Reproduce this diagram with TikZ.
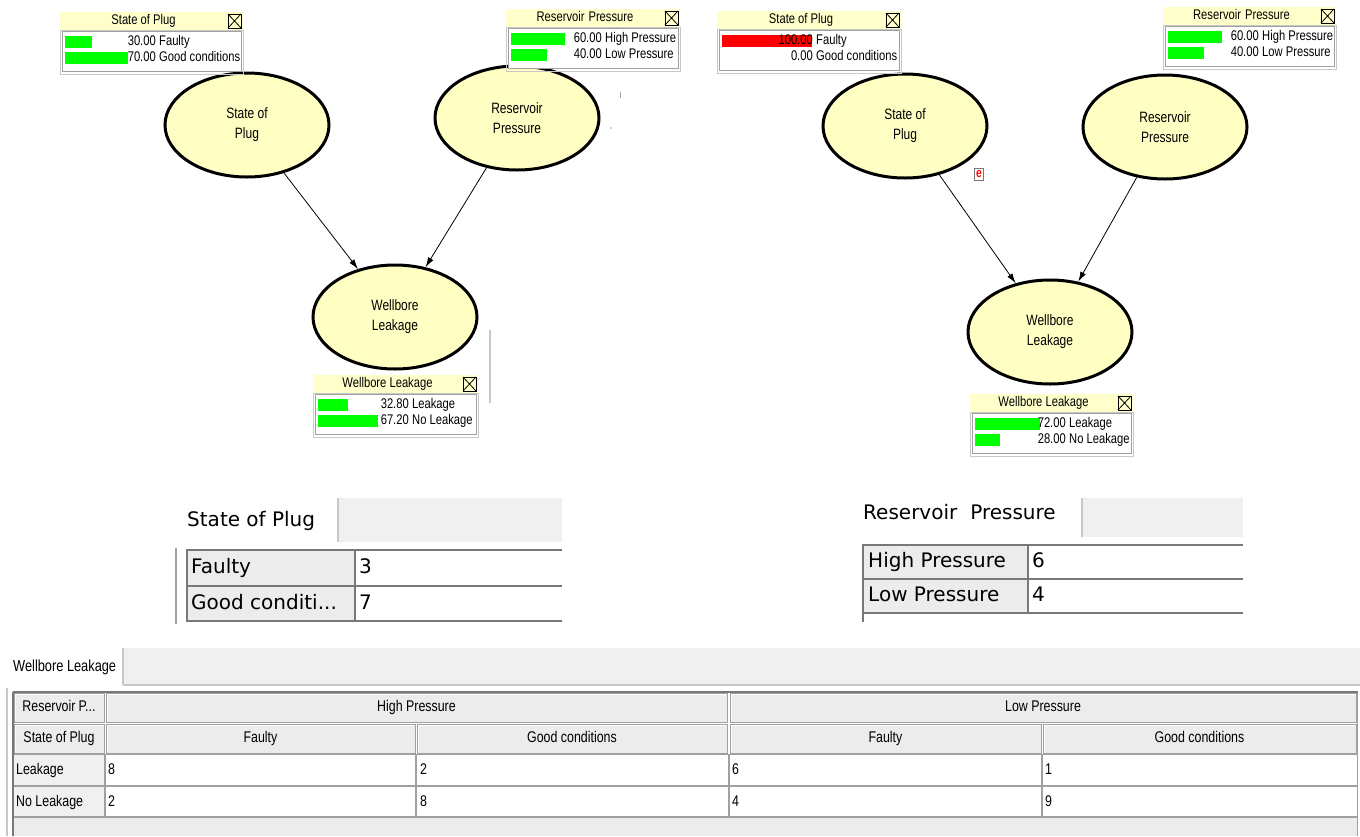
\documentclass[tikz,border=0pt]{standalone}
\usepackage{fontspec}
\usetikzlibrary{shapes.geometric,arrows.meta}
\newfontfamily\narrowfont{Liberation Sans}[FakeStretch=0.8]
\newfontfamily\dejafont{DejaVu Sans}
\definecolor{nodeyellow}{RGB}{255,255,196}
\definecolor{baryellow}{RGB}{255,255,204}
\definecolor{bargreen}{RGB}{0,255,0}
\definecolor{barred}{RGB}{255,0,0}
\definecolor{panelgray}{RGB}{240,240,240}
\definecolor{cellgray}{RGB}{236,236,236}
\definecolor{gridgray}{RGB}{160,160,160}
\definecolor{darkgrid}{RGB}{120,120,120}
\definecolor{edgegray}{RGB}{200,200,200}

\tikzset{
  bnnode/.style={ellipse, draw=black, line width=3pt, fill=nodeyellow,
    minimum width=164pt, minimum height=104pt, inner sep=0pt, align=center,
    font=\narrowfont\fontsize{15}{20}\selectfont},
  link/.style={line width=0.8pt, -{Latex[length=10pt,width=6pt]}},
  montext/.style={inner sep=0pt, text height=10pt, text depth=3pt,
    font=\narrowfont\fontsize{14}{16}\selectfont},
  bigtext/.style={inner sep=0pt, text height=15pt, text depth=4pt,
    font=\dejafont\fontsize{20}{24}\selectfont},
  tabtext/.style={inner sep=0pt, text height=11pt, text depth=3pt,
    font=\narrowfont\fontsize{15.5}{18}\selectfont},
  hcellbox/.style={draw=gridgray, fill=cellgray, line width=1pt},
}

% monitor window: name, x, y, width, title
\newcommand\bnmonitor[5]{%
  \fill[baryellow] (#2,#3) rectangle ++(#4,18);
  \node[montext] (#1-title) at ({#2+(#4-16)/2},{#3+9}) {#5};
  \draw[line width=0.8pt] ({#2+#4-15},{#3+2}) rectangle ++(13,14);
  \draw[line width=0.8pt] ({#2+#4-15},{#3+2}) -- ++(13,14)
                          ({#2+#4-2},{#3+2}) -- ++(-13,14);
  \draw[edgegray, line width=1pt] (#2,{#3+18}) rectangle ({#2+#4},{#3+62});
  \draw[gridgray, fill=white, line width=1pt] ({#2+2},{#3+19}) rectangle ({#2+#4-2},{#3+59});
}
% monitor row: name, bar start x, y centre, percent, number, label, colour
\newcommand\bnrow[7]{%
  \ifdim #4pt>0pt \fill[#7] (#2,{#3-6}) rectangle ++({0.9*#4},12);\fi
  \node[montext, anchor=east] (#1-num) at ({#2+91},#3) {#5};
  \node[montext, anchor=west] (#1-lab) at ({#2+94},#3) {#6};
}
% header cell: name, x1, y1, x2, y2, text
\newcommand\hcell[6]{%
  \draw[hcellbox] (#2,#3) rectangle (#4,#5);
  \draw[white, line width=1pt] ({#2+1.5},{#5-1.5}) -- ({#2+1.5},{#3+1.5}) -- ({#4-1.5},{#3+1.5});
  \node[tabtext] (#1) at ({(#2+#4)/2},{(#3+#5)/2}) {#6};
}

\begin{document}
\begin{tikzpicture}[x=1pt,y=-1pt]
\useasboundingbox (0,0) rectangle (1360,836);
\fill[white] (0,0) rectangle (1360,836);

% ================= LEFT NETWORK =================
\node[bnnode] (sopL) at (247,125) {State of\\Plug};
\node[bnnode] (rpL)  at (517,118) {Reservoir\\Pressure};
\node[bnnode] (wlL)  at (395,317) {Wellbore\\Leakage};
\draw[link] (sopL) -- (wlL);
\draw[link] (rpL) -- (wlL);

\bnmonitor{msopL}{60}{12}{183}{State of Plug}
\bnrow{msopL-a}{65}{42}{30}{30.00}{Faulty}{bargreen}
\bnrow{msopL-b}{65}{58}{70}{70.00}{Good conditions}{bargreen}

\bnmonitor{mrpL}{506}{9}{174}{Reservoir\hspace{4pt}Pressure}
\bnrow{mrpL-a}{511}{39}{60}{60.00}{High Pressure}{bargreen}
\bnrow{mrpL-b}{511}{55}{40}{40.00}{Low Pressure}{bargreen}

\bnmonitor{mwlL}{313}{375}{165}{Wellbore Leakage}
\bnrow{mwlL-a}{318}{405}{32.8}{32.80}{Leakage}{bargreen}
\bnrow{mwlL-b}{318}{421}{67.2}{67.20}{No Leakage}{bargreen}

% small stray marks
\draw[edgegray, line width=1.5pt] (490,330) -- (490,403);
\draw[gridgray, line width=1pt] (620,92) -- (620,98);
\fill[gridgray] (611,128) circle (0.8);

% ================= RIGHT NETWORK =================
\node[bnnode] (sopR) at (905,126) {State of\\Plug};
\node[bnnode] (rpR)  at (1165,127) {Reservoir\\Pressure};
\node[bnnode] (wlR)  at (1050,332) {Wellbore\\Leakage};
\draw[link] (sopR) -- (wlR);
\draw[link] (rpR) -- (wlR);

\node[draw=darkgrid, fill=white, line width=1pt, inner sep=0pt, minimum width=9pt,
      minimum height=12pt, text=barred, font=\narrowfont\bfseries\fontsize{13}{13}\selectfont]
      (ebadge) at (979,174) {e};

\bnmonitor{msopR}{717}{11}{184}{State of Plug}
\bnrow{msopR-a}{722}{41}{100}{100.00}{Faulty}{barred}
\bnrow{msopR-b}{722}{57}{0}{0.00}{Good conditions}{bargreen}

\bnmonitor{mrpR}{1163}{7}{173}{Reservoir\hspace{4pt}Pressure}
\bnrow{mrpR-a}{1168}{37}{60}{60.00}{High Pressure}{bargreen}
\bnrow{mrpR-b}{1168}{53}{40}{40.00}{Low Pressure}{bargreen}

\bnmonitor{mwlR}{970}{394}{163}{Wellbore Leakage}
\bnrow{mwlR-a}{975}{424}{72}{72.00}{Leakage}{bargreen}
\bnrow{mwlR-b}{975}{440}{28}{28.00}{No Leakage}{bargreen}

% ================= STATE OF PLUG TABLE =================
\node[bigtext, anchor=west] (soptitle) at (187,521) {State of Plug};
\fill[panelgray] (338,498) rectangle (562,542);
\draw[edgegray, line width=1.5pt] (338,498) -- (338,542);
\draw[gridgray, line width=1.5pt] (176,548) -- (176,624);
\fill[cellgray] (187,550) rectangle (355,621);
\draw[darkgrid, line width=1.5pt] (562,550) -- (187,550) -- (187,621) -- (562,621)
   (187,586) -- (562,586) (355,550) -- (355,621);
\node[bigtext, anchor=west] (sopf) at (191,568) {Faulty};
\node[bigtext, anchor=west] (sopfv) at (359,568) {3};
\node[bigtext, anchor=west] (sopg) at (191,604) {Good conditi...};
\node[bigtext, anchor=west] (sopgv) at (359,604) {7};

% ================= RESERVOIR PRESSURE TABLE =================
\node[bigtext, anchor=west] (rptitle) at (863,514) {Reservoir\hspace{13pt}Pressure};
\fill[panelgray] (1082,498) rectangle (1243,537);
\draw[edgegray, line width=1.5pt] (1082,498) -- (1082,537);
\fill[cellgray] (863,545) rectangle (1028,613);
\draw[darkgrid, line width=1.5pt] (1243,545) -- (863,545) -- (863,622)
   (863,579) -- (1243,579) (863,613) -- (1243,613) (1028,545) -- (1028,613);
\node[bigtext, anchor=west] (rph) at (868,562) {High Pressure};
\node[bigtext, anchor=west] (rphv) at (1032,562) {6};
\node[bigtext, anchor=west] (rpl) at (868,596) {Low Pressure};
\node[bigtext, anchor=west] (rplv) at (1032,596) {4};

% ================= WELLBORE LEAKAGE TABLE =================
\node[tabtext, anchor=west, font=\narrowfont\fontsize{16}{18}\selectfont] (wltitle) at (13,667) {Wellbore Leakage};
\fill[panelgray] (123,648) rectangle (1360,685);
\draw[edgegray, line width=1.5pt] (123,648) -- (123,685) (123,685) -- (1360,685);
\fill[white] (13,692) rectangle (1357,817);
\fill[cellgray] (13,817) rectangle (1357,836);
\draw[edgegray, line width=1.5pt] (7,688) -- (7,836);
\draw[gridgray, line width=1pt] (1357,692) -- (1357,836);

\hcell{hrp}{14}{693}{104}{722}{Reservoir\hspace{3pt}P...}
\hcell{hhp}{106}{693}{727}{722}{High Pressure}
\hcell{hlp}{730}{693}{1356}{722}{Low Pressure}
\hcell{hsp}{14}{724}{104}{753}{State of Plug}
\hcell{hf1}{106}{724}{415}{753}{Faulty}
\hcell{hg1}{417}{724}{727}{753}{Good conditions}
\hcell{hf2}{730}{724}{1041}{753}{Faulty}
\hcell{hg2}{1043}{724}{1356}{753}{Good conditions}

\fill[panelgray] (14,755) rectangle (104,816);
\draw[gridgray, line width=1.2pt] (13,754.5) -- (1357,754.5) (13,786) -- (1357,786) (13,817) -- (1357,817)
  (105,754) -- (105,817) (416,754) -- (416,817) (729,754) -- (729,817) (1042,754) -- (1042,817);
\draw[darkgrid, line width=2pt] (13,692) -- (1358,692) (13,692) -- (13,836);

\node[tabtext, anchor=west] (rl1) at (16,770) {Leakage};
\node[tabtext, anchor=west] (rl2) at (16,802) {No Leakage};
\node[tabtext, anchor=west] (v11) at (108,770) {8};
\node[tabtext, anchor=west] (v12) at (420,770) {2};
\node[tabtext, anchor=west] (v13) at (732,770) {6};
\node[tabtext, anchor=west] (v14) at (1045,770) {1};
\node[tabtext, anchor=west] (v21) at (108,802) {2};
\node[tabtext, anchor=west] (v22) at (420,802) {8};
\node[tabtext, anchor=west] (v23) at (732,802) {4};
\node[tabtext, anchor=west] (v24) at (1045,802) {9};
\end{tikzpicture}
\end{document}
